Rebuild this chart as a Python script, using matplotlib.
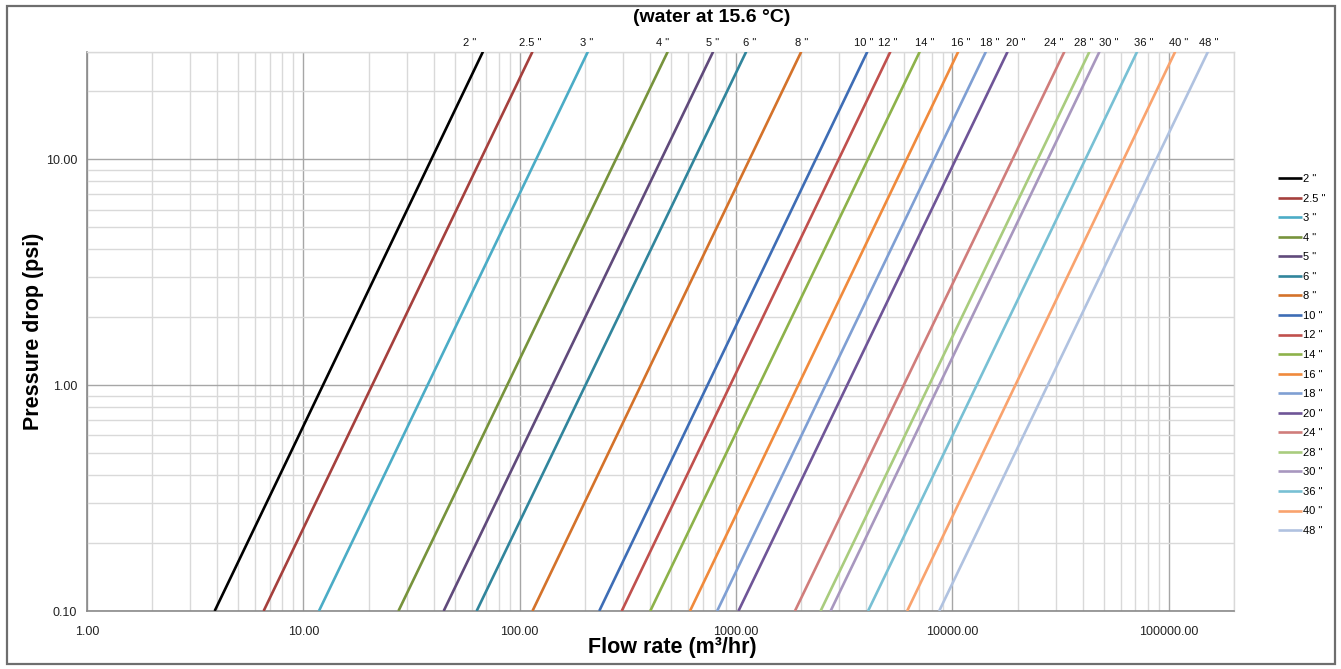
import matplotlib
matplotlib.use("Agg")
import matplotlib.pyplot as plt
from matplotlib.ticker import LogLocator, FuncFormatter, NullFormatter
from matplotlib.patches import Rectangle

# ---- data ----
sizes = ['2', '2.5', '3', '4', '5', '6', '8', '10', '12', '14', '16',
         '18', '20', '24', '28', '30', '36', '40', '48']
pressure_psi = [0.1, 30.0]
flow_at_low = [3.89, 6.55, 11.8, 27.5, 44.5, 63.2, 114.5, 233, 296, 401, 612,
               817, 1025, 1870, 2457, 2733, 4071, 6170, 8678]
flow_at_high = [67.6, 114.5, 206.5, 483, 783, 1113, 2000, 4041, 5164, 7057, 10627,
                14265, 17972, 32891, 42940, 47780, 71340, 106950, 151600]
x_ticks = [1, 10, 100, 1000, 10000, 100000]
y_ticks = [0.1, 1, 10]

# ---- styles ----
colors = ['#000000', '#A5403D', '#4BACC6', '#77933C', '#604A7B', '#31859C',
          '#D4722A', '#3E6DB5', '#C0504D', '#8DB24A', '#F08A3C', '#7F9FD3',
          '#6F5597', '#D07D7B', '#A9CC7E', '#A897BF', '#78C0D4', '#F9A36E',
          '#B0C2E0']
label_dx = [-13, -2, -1, -5, -1, 3, 0, -4, -3, 5, 3, 4, 8, -11, -6, 9, 7, 3, 1]

plt.rcParams['font.family'] = ['Liberation Sans', 'DejaVu Sans']
narrow = ['Liberation Sans Narrow', 'Liberation Sans', 'DejaVu Sans']

W, H = 1341, 669
fig = plt.figure(figsize=(W / 100, H / 100), dpi=100)
ax = fig.add_axes([87 / W, 1 - 611 / H, (1234 - 87) / W, (611 - 51.7) / H])

for i, s in enumerate(sizes):
    ax.plot([flow_at_low[i], flow_at_high[i]], pressure_psi, color=colors[i],
            lw=1.9, label=f'{s} "', solid_capstyle='butt', clip_on=True, zorder=3)
    ax.annotate(f'{s} "', xy=(flow_at_high[i], pressure_psi[1]),
                xytext=(label_dx[i], 9), textcoords='offset pixels',
                ha='center', va='center', fontsize=8, color='#111111',
                family=narrow, annotation_clip=False)

ax.set_xscale('log')
ax.set_yscale('log')
ax.set_xlim(1, 2.0e5)
ax.set_ylim(0.1, 30)

ax.xaxis.set_minor_locator(LogLocator(base=10, subs=range(2, 10), numticks=50))
ax.yaxis.set_minor_locator(LogLocator(base=10, subs=range(2, 10), numticks=50))
ax.set_xticks(x_ticks)
ax.set_yticks(y_ticks)
fmt = FuncFormatter(lambda v, p: f'{v:.2f}')
ax.xaxis.set_major_formatter(fmt)
ax.yaxis.set_major_formatter(fmt)
ax.xaxis.set_minor_formatter(NullFormatter())
ax.yaxis.set_minor_formatter(NullFormatter())
ax.tick_params(which='both', length=0, labelsize=9, colors='#222222')
ax.tick_params(axis='x', which='major', pad=11)
ax.tick_params(axis='y', which='major', pad=7)

ax.grid(which='major', color='#A6A6A6', lw=1.0, zorder=1)
ax.grid(which='minor', color='#D9D9D9', lw=1.0, zorder=1)
ax.set_axisbelow(True)
for side in ['left', 'bottom']:
    ax.spines[side].set_color('#8A8A8A')
    ax.spines[side].set_linewidth(1.2)
for side in ['top', 'right']:
    ax.spines[side].set_color('#D9D9D9')
    ax.spines[side].set_linewidth(1.0)

fig.text(672 / W, 1 - 647 / H, 'Flow rate (m³/hr)',
         ha='center', va='center', fontsize=15.5, fontweight='bold')
fig.text(34 / W, 1 - ((611 + 51.7) / 2) / H, 'Pressure drop (psi)', rotation=90,
         ha='center', va='center', fontsize=15.5, fontweight='bold')
fig.text(712 / W, 1 - 17 / H, '(water at 15.6 °C)', ha='center', va='center',
         fontsize=14, fontweight='bold', family=narrow)

leg = fig.legend(loc='center left', bbox_to_anchor=(1278 / W, 1 - 355 / H),
                 frameon=False, fontsize=8, handlelength=2.15, handletextpad=0.12,
                 labelspacing=0.86, borderpad=0, borderaxespad=0)

fig.patches.append(Rectangle((6.5 / W, 5 / H), (1335 - 6.5) / W, (663 - 5) / H,
                             transform=fig.transFigure, fill=False,
                             edgecolor='#6E6E6E', lw=1.6))

fig.savefig('out.png', dpi=100)
